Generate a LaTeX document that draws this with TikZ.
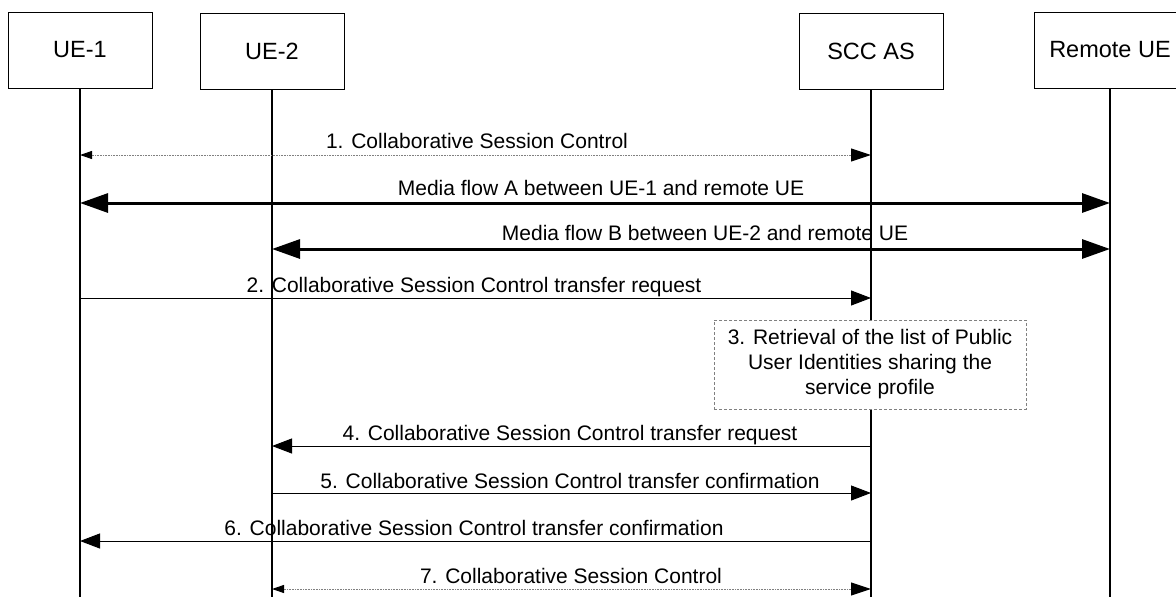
\documentclass[tikz,border=0pt]{standalone}
\usepackage{fontspec}
\setmainfont{Liberation Sans}
\usetikzlibrary{arrows.meta}
\begin{document}
\begin{tikzpicture}[x=1pt,y=-1pt,
  entity/.style={draw, line width=1pt, minimum width=144pt, minimum height=76pt, inner sep=0pt, font=\fontsize{23.5}{28}\selectfont},
  life/.style={line width=2pt},
  lbl/.style={anchor=base, inner sep=0pt, font=\fontsize{21}{25}\selectfont},
  msg/.style={line width=1pt, -{Triangle[length=20pt,width=15pt]}},
  media/.style={line width=3pt, {Triangle[length=28pt,width=19pt]}-{Triangle[length=28pt,width=19pt]}},
  ctrl/.style={line width=1pt, gray, dash pattern=on 1pt off 0.6pt, {Triangle[length=12pt,width=8pt,color=black]}-{Triangle[length=20pt,width=13pt,color=black]}},
  procbox/.style={draw=gray, fill=white, line width=1pt, dash pattern=on 3pt off 2pt, minimum width=312pt, minimum height=89pt, align=center, font=\fontsize{21}{25}\selectfont}
]
\useasboundingbox (0,0) rectangle (1176,597);

% entities
\node[entity] (ue1) at (80,50) {UE-1};
\node[entity] (ue2) at (272,51) {UE-2};
\node[entity] (scc) at (871,51) {SCC AS};
\node[entity, minimum width=152pt] (rem) at (1110,50) {Remote UE};

% lifeline ends
\coordinate (ue1b) at (80,597);
\coordinate (ue2b) at (272,597);
\coordinate (sccb) at (871,597);
\coordinate (remb) at (1110,597);

\draw[life] (ue1.south) -- (ue1b);
\draw[life] (ue2.south) -- (ue2b);
\draw[life] (scc.south) -- (sccb);
\draw[life] (rem.south) -- (remb);

% message end points
\coordinate (m1a) at (80,155);   \coordinate (m1b) at (871,155);
\coordinate (mAa) at (80,203);   \coordinate (mAb) at (1110,203);
\coordinate (mBa) at (272,249);  \coordinate (mBb) at (1110,249);
\coordinate (m2a) at (80,298);   \coordinate (m2b) at (871,298);
\coordinate (m4a) at (871,446);  \coordinate (m4b) at (272,446);
\coordinate (m5a) at (272,493);  \coordinate (m5b) at (871,493);
\coordinate (m6a) at (871,541);  \coordinate (m6b) at (80,541);
\coordinate (m7a) at (272,589);  \coordinate (m7b) at (871,589);

\draw[ctrl] (m1a) -- (m1b);
\node[lbl] (l1) at (477,148) {1. Collaborative Session Control};

\draw[media] (mAa) -- (mAb);
\node[lbl] (lA) at (601,195) {Media flow A between UE-1 and remote UE};

\draw[media] (mBa) -- (mBb);
\node[lbl] (lB) at (705,240) {Media flow B between UE-2 and remote UE};

\draw[msg] (m2a) -- (m2b);
\node[lbl] (l2) at (474,292) {2. Collaborative Session Control transfer request};

\node[procbox] (p3) at (870,364.5) {3. Retrieval of the list of Public\\User Identities sharing the\\service profile};

\draw[msg] (m4a) -- (m4b);
\node[lbl] (l4) at (570,440) {4. Collaborative Session Control transfer request};

\draw[msg] (m5a) -- (m5b);
\node[lbl] (l5) at (570,488) {5. Collaborative Session Control transfer confirmation};

\draw[msg] (m6a) -- (m6b);
\node[lbl] (l6) at (474,535) {6. Collaborative Session Control transfer confirmation};

\draw[ctrl] (m7a) -- (m7b);
\node[lbl] (l7) at (571,583) {7. Collaborative Session Control};
\end{tikzpicture}
\end{document}
